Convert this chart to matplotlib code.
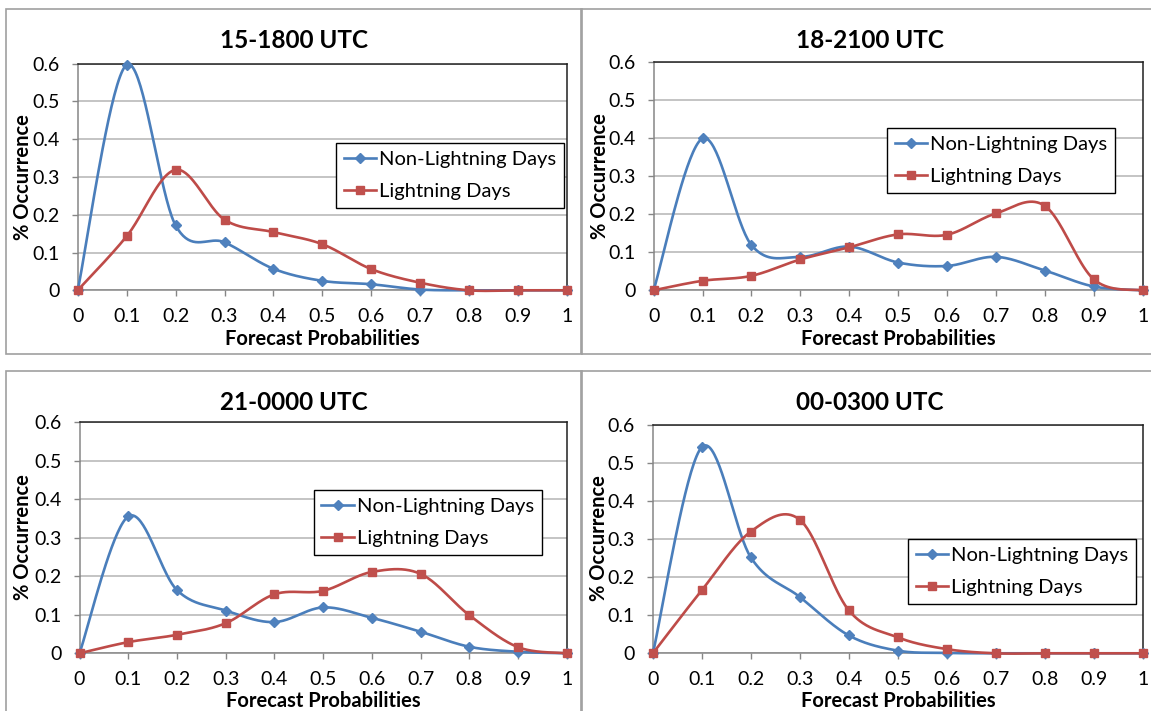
import numpy as np
import matplotlib
matplotlib.use("Agg")
import matplotlib.pyplot as plt
from matplotlib.lines import Line2D
from matplotlib.patches import Rectangle

plt.rcParams['font.family'] = ['Lato', 'DejaVu Sans']

# ---------------- data ----------------
x_probs = [0, 0.1, 0.2, 0.3, 0.4, 0.5, 0.6, 0.7, 0.8, 0.9, 1.0]
x_tick_labels = ['0', '0.1', '0.2', '0.3', '0.4', '0.5', '0.6', '0.7', '0.8', '0.9', '1']
y_ticks = [0, 0.1, 0.2, 0.3, 0.4, 0.5, 0.6]
y_tick_labels = ['0', '0.1', '0.2', '0.3', '0.4', '0.5', '0.6']

titles = ['15-1800 UTC', '18-2100 UTC', '21-0000 UTC', '00-0300 UTC']

non_lightning_15 = [0, 0.597, 0.172, 0.127, 0.057, 0.025, 0.016, 0.002, 0, 0, 0]
lightning_15 = [0, 0.143, 0.319, 0.187, 0.154, 0.122, 0.056, 0.020, 0, 0, 0]

non_lightning_18 = [0, 0.399, 0.119, 0.088, 0.115, 0.073, 0.064, 0.088, 0.052, 0.010, 0]
lightning_18 = [0, 0.025, 0.038, 0.081, 0.113, 0.147, 0.146, 0.202, 0.222, 0.029, 0]

non_lightning_21 = [0, 0.355, 0.164, 0.111, 0.081, 0.119, 0.092, 0.056, 0.017, 0.004, 0]
lightning_21 = [0, 0.029, 0.048, 0.078, 0.153, 0.162, 0.211, 0.206, 0.099, 0.016, 0]

non_lightning_00 = [0, 0.542, 0.252, 0.148, 0.047, 0.007, 0.001, 0, 0, 0, 0]
lightning_00 = [0, 0.166, 0.320, 0.351, 0.113, 0.042, 0.011, 0, 0, 0, 0]

series_names = ['Non-Lightning Days', 'Lightning Days']

# ---------------- layout (pixels) ----------------
W, H = 1151, 711
DPI = 100
fig = plt.figure(figsize=(W / DPI, H / DPI), dpi=DPI)

BLUE_LINE = '#4A7EBB'
BLUE_MARK = '#4F81BD'
RED_LINE = '#BE4B48'
RED_MARK = '#C0504D'


def px_rect(x0, x1, ytop, ybot):
    return [x0 / W, (H - ybot) / H, (x1 - x0) / W, (ybot - ytop) / H]


def smooth(xs, ys, n=40):
    # Excel-style smoothed line (Catmull-Rom via cubic Bezier) through data points
    xs = np.asarray(xs, float)
    ys = np.asarray(ys, float)
    P = np.column_stack([xs, ys])
    m = len(P)
    out = []
    t = np.linspace(0, 1, n)[:, None]
    for i in range(m - 1):
        p0 = P[i - 1] if i > 0 else P[i]
        p1 = P[i]
        p2 = P[i + 1]
        p3 = P[i + 2] if i + 2 < m else P[i + 1]
        c1 = p1 + (p2 - p0) / 6.0
        c2 = p2 - (p3 - p1) / 6.0
        seg = ((1 - t) ** 3) * p1 + 3 * ((1 - t) ** 2) * t * c1 + 3 * (1 - t) * t ** 2 * c2 + t ** 3 * p2
        out.append(seg if i == 0 else seg[1:])
    out = np.vstack(out)
    return out[:, 0], out[:, 1]


panels = [
    dict(rect=(77.7, 567.1, 63.7, 290.3), nl=non_lightning_15, l=lightning_15, title=titles[0],
         title_xy=(294, 41), xl_xy=(322, 339), yl_xy=(23, 177), leg=(0.528, 0.65), frame=(6, 9, 582, 354)),
    dict(rect=(653.6, 1142.6, 62, 290.3), nl=non_lightning_18, l=lightning_18, title=titles[1],
         title_xy=(870, 41), xl_xy=(898, 339), yl_xy=(600, 176), leg=(0.477, 0.71), frame=(581, 9, 1165, 354)),
    dict(rect=(79.5, 566.7, 422, 653.3), nl=non_lightning_21, l=lightning_21, title=titles[2],
         title_xy=(294, 402), xl_xy=(323, 701), yl_xy=(23, 537), leg=(0.481, 0.706), frame=(6, 371, 582, 725)),
    dict(rect=(652.9, 1142.6, 425, 653.3), nl=non_lightning_00, l=lightning_00, title=titles[3],
         title_xy=(870, 402), xl_xy=(898, 701), yl_xy=(599, 538), leg=(0.521, 0.50), frame=(581, 371, 1165, 725)),
]

for p in panels:
    # panel frame
    fx0, fy0, fx1, fy1 = p['frame']
    fig.add_artist(Rectangle((fx0 / W, (H - fy1) / H), (fx1 - fx0) / W, (fy1 - fy0) / H,
                             transform=fig.transFigure, fill=False, edgecolor='#A0A0A0',
                             linewidth=1.2, zorder=0))

    ax = fig.add_axes(px_rect(*p['rect']))
    ax.set_xlim(0, 1)
    ax.set_ylim(0, 0.6)
    ax.set_xticks(x_probs)
    ax.set_xticklabels(x_tick_labels)
    ax.set_yticks(y_ticks)
    ax.set_yticklabels(y_tick_labels)
    ax.tick_params(axis='both', direction='out', length=4, width=1, color='#868686',
                   labelsize=14, labelcolor='black')
    ax.tick_params(axis='x', pad=9)
    ax.tick_params(axis='y', pad=9)
    ax.grid(axis='y', color='#B4B4B4', linewidth=1.1)
    ax.set_axisbelow(True)
    for s in ['left', 'bottom']:
        ax.spines[s].set_color('#868686')
        ax.spines[s].set_linewidth(1.1)
    for s in ['top', 'right']:
        ax.spines[s].set_color('#202020')
        ax.spines[s].set_linewidth(1.1)

    bx, by = smooth(x_probs, p['nl'])
    ax.plot(bx, by, color=BLUE_LINE, linewidth=1.9, zorder=3, clip_on=False)
    ax.plot(x_probs, p['nl'], linestyle='none', marker='D', markersize=5.5,
            color=BLUE_MARK, zorder=4, clip_on=False)
    rx, ry = smooth(x_probs, p['l'])
    ax.plot(rx, ry, color=RED_LINE, linewidth=1.9, zorder=5, clip_on=False)
    ax.plot(x_probs, p['l'], linestyle='none', marker='s', markersize=6.2,
            color=RED_MARK, zorder=6, clip_on=False)

    handles = [
        Line2D([], [], color=BLUE_LINE, linewidth=1.9, marker='D', markersize=5.5,
               markerfacecolor=BLUE_MARK, markeredgecolor=BLUE_MARK),
        Line2D([], [], color=RED_LINE, linewidth=1.9, marker='s', markersize=6.2,
               markerfacecolor=RED_MARK, markeredgecolor=RED_MARK),
    ]
    leg = ax.legend(handles, series_names, loc='upper left', bbox_to_anchor=p['leg'],
                    borderaxespad=0, frameon=True, fancybox=False, framealpha=1,
                    edgecolor='black', fontsize=14.5, handlelength=1.6, handletextpad=0.15,
                    labelspacing=0.75, borderpad=0.38)
    leg.get_frame().set_linewidth(1.0)
    leg.set_zorder(10)

    tx, ty = p['title_xy']
    fig.text(tx / W, 1 - ty / H, p['title'], ha='center', va='center',
             fontsize=17.5, fontweight='bold')
    lx, ly = p['xl_xy']
    fig.text(lx / W, 1 - ly / H, 'Forecast Probabilities', ha='center', va='center',
             fontsize=14.5, fontweight='bold')
    yx, yy = p['yl_xy']
    fig.text(yx / W, 1 - yy / H, '% Occurrence', ha='center', va='center',
             fontsize=14.5, fontweight='bold', rotation=90)

fig.savefig('out.png', dpi=DPI)
